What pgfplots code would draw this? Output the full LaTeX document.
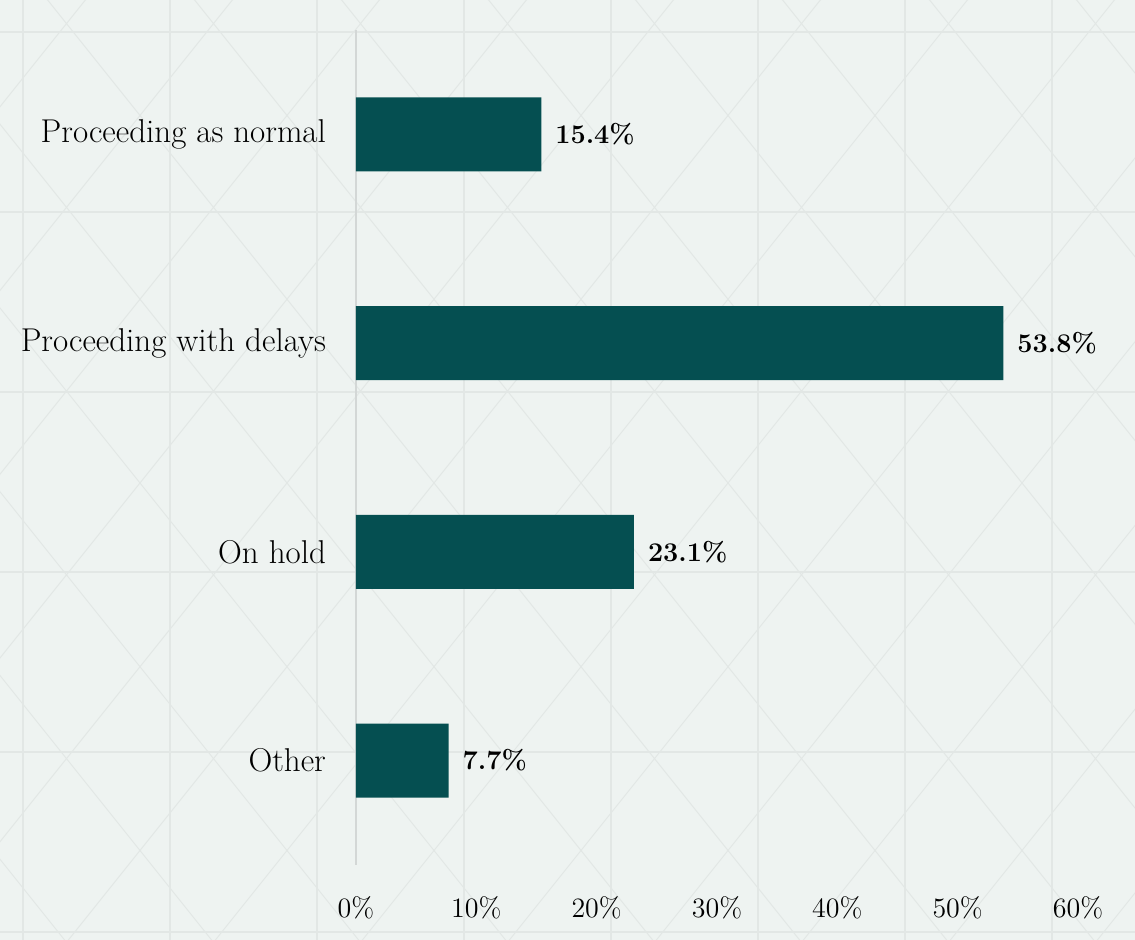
\documentclass[border=0pt]{standalone}
\usepackage{pgfplots}
\pgfplotsset{compat=1.18}
\definecolor{bg}{HTML}{EEF3F1}
\definecolor{pat}{HTML}{E2E7E5}
\definecolor{barc}{HTML}{054F51}
\definecolor{axl}{HTML}{D3D7D6}
\begin{document}
\begin{tikzpicture}
\fill[bg] (-178pt,-37.5pt) rectangle (389.5pt,432.5pt);
\begin{scope}[x=1pt,y=1pt]
\clip (-178,-37.5) rectangle (389.5,432.5);
\foreach \k in {-2,...,7} {
  \draw[pat, line width=0.6pt] ({-166.5+73.5*\k},-40) -- ({-166.5+73.5*\k},440);
}
\foreach \k in {-1,...,5} {
  \draw[pat, line width=0.6pt] (-180,{-33.5+90*\k}) -- (392,{-33.5+90*\k});
}
\foreach \k in {-6,...,10} {
  \draw[pat, line width=0.5pt] ({-108+73.5*\k-184.8},-40) -- ({-108+73.5*\k+199.2},440);
  \draw[pat, line width=0.5pt] ({-108+73.5*\k+184.8},-40) -- ({-108+73.5*\k-199.2},440);
}
\end{scope}
\begin{axis}[
  scale only axis, width=361pt, height=417.5pt,
  xmin=0, xmax=60, ymin=-0.5, ymax=3.5, y dir=reverse,
  xbar, bar width=37pt,
  axis lines=left, axis line style={-},
  x axis line style={draw=none},
  y axis line style={draw=axl, line width=1pt},
  xtick={0,10,20,30,40,50,60},
  xticklabels={0\%,10\%,20\%,30\%,40\%,50\%,60\%},
  xticklabel style={font=\fontsize{14}{14}\selectfont, yshift=-12pt},
  ytick={0,1,2,3},
  yticklabels={Proceeding as normal,Proceeding with delays,On hold,Other},
  yticklabel style={font=\fontsize{16.5}{16.5}\selectfont, xshift=-11.5pt},
  major tick length=0pt,
  nodes near coords, point meta=explicit symbolic,
  nodes near coords style={font=\fontsize{13.5}{13.5}\selectfont\bfseries, anchor=west, xshift=3.5pt},
  clip=false,
]
\addplot[fill=barc, draw=none] coordinates {
  (15.4,0) [15.4\%]
  (53.8,1) [53.8\%]
  (23.1,2) [23.1\%]
  (7.7,3) [7.7\%]
};
\end{axis}
\end{tikzpicture}
\end{document}
